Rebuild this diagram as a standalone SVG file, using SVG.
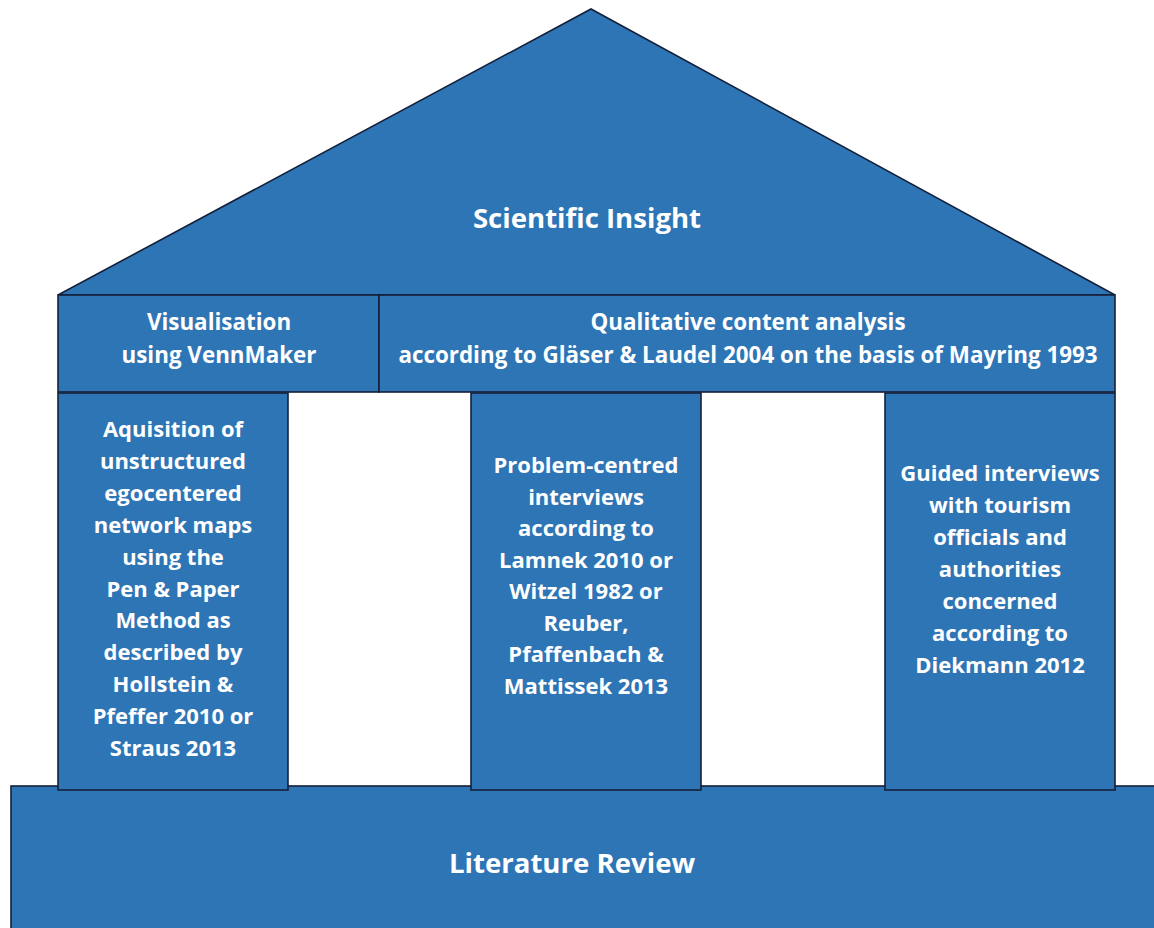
<svg xmlns="http://www.w3.org/2000/svg" width="1154" height="928" viewBox="0 0 1154 928">
<style>
.s{fill:#2E75B6;stroke:#14203a;stroke-width:1.6}
.t{fill:#ffffff;font-family:"Open Sans","Liberation Sans",sans-serif;font-weight:bold;text-anchor:middle}
.c{font-size:22px}
.d{font-size:22.4px}
.b{font-size:27.6px}
</style>
<rect width="1154" height="928" fill="#ffffff"/>
<g id="base">
<rect class="s" x="11" y="786" width="1160" height="160"/>
<text class="t b" x="572" y="873">Literature Review</text>
</g>
<g id="roof">
<polygon class="s" points="58,295 591,9 1115,295"/>
<text class="t b" x="587" y="228">Scientific Insight</text>
</g>
<g id="beam-visualisation">
<rect class="s" x="58" y="295" width="321" height="97"/>
<text class="t d" x="219" y="330">Visualisation</text>
<text class="t d" x="219" y="363">using VennMaker</text>
</g>
<g id="beam-qualitative">
<rect class="s" x="379" y="295" width="736" height="97"/>
<text class="t d" x="748" y="330">Qualitative content analysis</text>
<text class="t d" x="748" y="363">according to Gläser &amp; Laudel 2004 on the basis of Mayring 1993</text>
</g>
<g id="pillar-left">
<rect class="s" x="58" y="393" width="230" height="397"/>
<text class="t c" x="173" y="437">Aquisition of</text>
<text class="t c" x="173" y="469">unstructured</text>
<text class="t c" x="173" y="501">egocentered</text>
<text class="t c" x="173" y="533">network maps</text>
<text class="t c" x="173" y="565">using the</text>
<text class="t c" x="173" y="597">Pen &amp; Paper</text>
<text class="t c" x="173" y="628">Method as</text>
<text class="t c" x="173" y="660">described by</text>
<text class="t c" x="173" y="692">Hollstein &amp;</text>
<text class="t c" x="173" y="724">Pfeffer 2010 or</text>
<text class="t c" x="173" y="756">Straus 2013</text>
</g>
<g id="pillar-middle">
<rect class="s" x="471" y="393" width="230" height="397"/>
<text class="t c" x="586" y="473">Problem-centred</text>
<text class="t c" x="586" y="505">interviews</text>
<text class="t c" x="586" y="536">according to</text>
<text class="t c" x="586" y="568">Lamnek 2010 or</text>
<text class="t c" x="586" y="599">Witzel 1982 or</text>
<text class="t c" x="586" y="631">Reuber,</text>
<text class="t c" x="586" y="662">Pfaffenbach &amp;</text>
<text class="t c" x="586" y="694">Mattissek 2013</text>
</g>
<g id="pillar-right">
<rect class="s" x="885" y="393" width="230" height="397"/>
<text class="t c" x="1000" y="481">Guided interviews</text>
<text class="t c" x="1000" y="513">with tourism</text>
<text class="t c" x="1000" y="545">officials and</text>
<text class="t c" x="1000" y="577">authorities</text>
<text class="t c" x="1000" y="609">concerned</text>
<text class="t c" x="1000" y="641">according to</text>
<text class="t c" x="1000" y="673">Diekmann 2012</text>
</g>
<g id="connectors"></g>
</svg>
